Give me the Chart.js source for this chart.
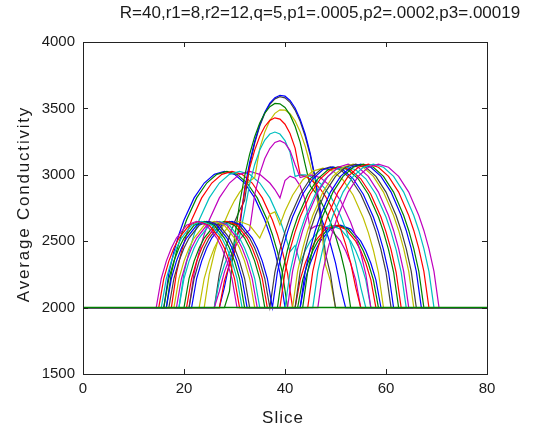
<!DOCTYPE html>
<html>
<head>
<meta charset="utf-8">
<script src="https://cdn.jsdelivr.net/npm/chart.js@4.4.0/dist/chart.umd.min.js"></script>
<style>
  html, body { margin: 0; padding: 0; background: #fff; }
</style>
</head>
<body>
<canvas id="chart" width="535" height="430"></canvas>
<script>
// texts
const chartTitle = 'R=40,r1=8,r2=12,q=5,p1=.0005,p2=.0002,p3=.00019';
const xLabel = 'Slice';
const yLabel = 'Average Conductivity';

// axes
const xTicks = [0, 20, 40, 60, 80];
const yTicks = [1500, 2000, 2500, 3000, 3500, 4000];

// matlab default colour order
const lineColors = ['#0000ff', '#008000', '#ff0000', '#00bfbf', '#bf00bf', '#bfbf00', '#404040'];

// slice positions of every curve
const slices = [
  [0,16,17,18,19,20,22,24,26,28,30,32,34,36,37,38,39,40,43,44,45,46,47,49,51,53,55,56,57,58,59,80],
  [0,16.5,17.5,18.5,19.5,20.5,22.5,24.5,26.5,28.5,30.5,32.5,34.5,36.5,37.5,38.5,39.5,40.5,42.5,43.5,44.5,45.5,46.5,48.5,50.5,52.5,54.5,55.5,56.5,57.5,58.5,80],
  [0,17.5,18.5,19.5,20.5,21.5,23.5,25.5,27.5,29.5,31.5,33.5,35.5,37.5,38.5,39.5,40.5,41.5,42,43,44,45,46,48,50,52,54,55,56,57,58,80],
  [0,19,20,21,22,23,25,27,29,31,33,35,37,39,40,41,42,43,44,45,47,49,51,53,54,55,56,57,80],
  [0,21,22,23,24,25,27,29,31,33,35,37,38,39,40,41,42,43,44,45,46,47,49,51,52,53,54,55,80],
  [0,24,25,26,27,28,29,30,31,32,33,34,35,36,37,38,39,40,41,42,43,44,45,46,47,48,49,50,80],
  [0,26,27,28,29,30,31,32,33,34,35,36,37,38,39,40,41,42,43,44,45,46,47,48,49,50,80],
  [0,27,28,29,30,31,32,33,34,35,36,37,38,39,40,41,42,43,44,45,46,47,48,49,50,51,52,80],
  [0,28,29,30,31,32,33,34,35,36,37,38,39,40,41,42,43,44,45,46,47,48,49,50,51,52,53,80],
  [0,27,28,29,30,31,32,33,34,35,36,37,38,39,40,41,42,43,44,45,46,47,48,49,50,51,52,53,54,55,80],
  [0,26,27,28,29,30,31,32,33,34,35,36,37,38,39,40,41,42,43,44,45,46,47,48,49,50,51,52,53,54,55,56,80],
  [0,26,27,28,29,30,31,32,33,34,35,36,37,38,39,40,41,42,43,45,47,49,51,53,54,55,56,57,80],
  [0,23,24,25,26,27,29,31,33,35,36,37,38,39,40,41.5,43.5,45.5,47.5,49.5,51.5,53.5,55.5,56.5,57.5,58.5,59.5,80],
  [0,21,22,23,24,25,27,29,31,33,34,35,36,37,37,38,39,40,41,43,45,47,49,51,53,55,57,58,59,60,61,80],
  [0,21.5,22.5,23.5,24.5,25.5,27.5,29.5,31.5,33.5,34.5,35.5,36.5,37.5,37.5,38.5,39.5,40.5,41.5,43.5,45.5,47.5,49.5,51.5,53.5,55.5,57.5,58.5,59.5,60.5,61.5,80],
  [0,20,21,22,23,24,26,28,30,32,33,34,35,36,38.5,39.5,40.5,41.5,42.5,44.5,46.5,48.5,50.5,52.5,54.5,56.5,58.5,59.5,60.5,61.5,62.5,80],
  [0,20.5,21.5,22.5,23.5,24.5,26.5,28.5,30.5,32.5,33.5,34.5,35.5,36.5,39,40,41,42,43,45,47,49,51,53,55,57,59,60,61,62,63,80],
  [0,19,20,21,22,23,25,27,29,31,32,33,34,35,40,41,42,43,44,46,48,50,52,54,56,58,60,61,62,63,64,80],
  [0,18.5,19.5,20.5,21.5,22.5,24.5,26.5,28.5,30.5,31.5,32.5,33.5,34.5,40.5,41.5,42.5,43.5,44.5,46.5,48.5,50.5,52.5,54.5,56.5,58.5,60.5,61.5,62.5,63.5,64.5,80],
  [0,18,19,20,21,22,24,26,28,30,31,32,33,34,41.5,42.5,43.5,44.5,45.5,47.5,49.5,51.5,53.5,55.5,57.5,59.5,61.5,62.5,63.5,64.5,65.5,80],
  [0,17,18,19,20,21,23,25,27,29,30,31,32,33,42,43,44,45,46,48,50,52,54,56,58,60,62,63,64,65,66,80],
  [0,16.5,17.5,18.5,19.5,20.5,22.5,24.5,26.5,28.5,29.5,30.5,31.5,32.5,43,44,45,46,47,49,51,53,55,57,59,61,63,64,65,66,67,80],
  [0,16,17,18,19,20,22,24,26,28,29,30,31,32,43.5,44.5,45.5,46.5,47.5,49.5,51.5,53.5,55.5,57.5,59.5,61.5,63.5,64.5,65.5,66.5,67.5,80],
  [0,15,16,17,18,19,21,23,25,27,28,29,30,31,44.5,45.5,46.5,47.5,48.5,50.5,52.5,54.5,56.5,58.5,60.5,62.5,64.5,65.5,66.5,67.5,68.5,80],
  [0,15.5,16.5,17.5,18.5,19.5,21.5,23.5,25.5,27.5,28.5,29.5,30.5,31.5,45.5,46.5,47.5,48.5,49.5,51.5,53.5,55.5,57.5,59.5,61.5,63.5,65.5,66.5,67.5,68.5,69.5,80],
  [0,14.5,15.5,16.5,17.5,18.5,20.5,22.5,24.5,26.5,27.5,28.5,29.5,30.5,46.5,47.5,48.5,49.5,50.5,52.5,54.5,56.5,58.5,60.5,62.5,64.5,66.5,67.5,68.5,69.5,70.5,80]
];

// average conductivity of every curve at those slices
const conductivity = [
  [2000,2000,2259,2421,2551,2659,2826,2938,3003,3025,3003,2938,2826,2659,2551,2421,2259,2000,2000,2209,2334,2428,2500,2591,2620,2591,2500,2428,2334,2209,2000,2000],
  [2000,2000,2259,2421,2551,2659,2826,2938,3003,3025,3003,2938,2826,2659,2551,2421,2259,2000,2000,2209,2334,2428,2500,2591,2620,2591,2500,2428,2334,2209,2000,2000],
  [2000,2000,2259,2421,2551,2659,2826,2938,3003,3025,3003,2938,2826,2659,2551,2421,2259,2000,2000,2209,2334,2428,2500,2591,2620,2591,2500,2428,2334,2209,2000,2000],
  [2000,2000,2259,2421,2551,2659,2826,2938,3003,3025,3003,2938,2826,2659,2551,2421,2468,2334,2428,2500,2591,2620,2591,2500,2428,2334,2209,2000,2000],
  [2000,2000,2259,2421,2551,2659,2826,2938,3003,3025,3003,2938,2889,2826,2957,2990,2975,2917,2809,2590,2613,2620,2591,2500,2428,2334,2209,2000,2000],
  [2000,2000,2253,2411,2538,2643,2732,2806,2867,2915,2953,2979,3197,3323,3409,3463,3489,3487,3460,3406,3325,3215,3074,2895,2667,2323,2202,2000,2000],
  [2000,2000,2253,2411,2538,2643,2732,2806,3069,3238,3367,3463,3531,3572,3588,3579,3546,3487,3403,3290,3146,2966,2740,2411,2253,2000,2000],
  [2000,2000,2153,2337,2478,2593,2892,3094,3252,3377,3471,3539,3581,3599,3592,3560,3503,3419,3307,3161,2973,2690,2593,2478,2337,2153,2000,2000],
  [2000,2000,2123,2520,2782,2989,3155,3287,3390,3465,3513,3537,3534,3507,3451,3366,3246,3076,2915,2867,2806,2732,2643,2538,2411,2253,2000,2000],
  [2000,2000,2202,2323,2414,2637,2873,3050,3186,3290,3364,3410,3429,3419,3381,3311,3201,2999,2988,2967,2935,2893,2838,2771,2690,2593,2478,2337,2153,2000,2000],
  [2000,2000,2202,2323,2414,2484,2536,2725,2930,3078,3186,3262,3307,3322,3307,3258,3169,2988,2999,2999,2988,2967,2935,2893,2838,2771,2690,2593,2478,2337,2153,2000,2000],
  [2000,2000,2123,2267,2371,2451,2512,2555,2584,2851,3009,3122,3198,3244,3257,3238,3182,3076,2979,3000,2979,2915,2806,2643,2538,2411,2253,2000,2000],
  [2000,2000,2219,2350,2448,2524,2620,2650,2620,2524,2609,2704,2721,2623,2725,2846,2961,3028,3050,3028,2961,2846,2675,2565,2432,2266,2000,2000],
  [2000,2000,2219,2350,2448,2524,2620,2650,2620,2524,2448,2350,2219,2000,2000,2268,2436,2570,2682,2854,2970,3038,3060,3038,2970,2854,2682,2570,2436,2268,2000,2000],
  [2000,2000,2219,2350,2448,2524,2620,2650,2620,2524,2448,2350,2219,2000,2000,2268,2436,2570,2682,2854,2970,3038,3060,3038,2970,2854,2682,2570,2436,2268,2000,2000],
  [2000,2000,2219,2350,2448,2524,2620,2650,2620,2524,2448,2350,2219,2000,2000,2268,2436,2570,2682,2854,2970,3038,3060,3038,2970,2854,2682,2570,2436,2268,2000,2000],
  [2000,2000,2219,2350,2448,2524,2620,2650,2620,2524,2448,2350,2219,2000,2000,2268,2436,2570,2682,2854,2970,3038,3060,3038,2970,2854,2682,2570,2436,2268,2000,2000],
  [2000,2000,2219,2350,2448,2524,2620,2650,2620,2524,2448,2350,2219,2000,2000,2268,2436,2570,2682,2854,2970,3038,3060,3038,2970,2854,2682,2570,2436,2268,2000,2000],
  [2000,2000,2219,2350,2448,2524,2620,2650,2620,2524,2448,2350,2219,2000,2000,2273,2444,2581,2694,2870,2988,3057,3080,3057,2988,2870,2694,2581,2444,2273,2000,2000],
  [2000,2000,2219,2350,2448,2524,2620,2650,2620,2524,2448,2350,2219,2000,2000,2273,2444,2581,2694,2870,2988,3057,3080,3057,2988,2870,2694,2581,2444,2273,2000,2000],
  [2000,2000,2219,2350,2448,2524,2620,2650,2620,2524,2448,2350,2219,2000,2000,2273,2444,2581,2694,2870,2988,3057,3080,3057,2988,2870,2694,2581,2444,2273,2000,2000],
  [2000,2000,2219,2350,2448,2524,2620,2650,2620,2524,2448,2350,2219,2000,2000,2273,2444,2581,2694,2870,2988,3057,3080,3057,2988,2870,2694,2581,2444,2273,2000,2000],
  [2000,2000,2219,2350,2448,2524,2620,2650,2620,2524,2448,2350,2219,2000,2000,2273,2444,2581,2694,2870,2988,3057,3080,3057,2988,2870,2694,2581,2444,2273,2000,2000],
  [2000,2000,2219,2350,2448,2524,2620,2650,2620,2524,2448,2350,2219,2000,2000,2273,2444,2581,2694,2870,2988,3057,3080,3057,2988,2870,2694,2581,2444,2273,2000,2000],
  [2000,2000,2219,2350,2448,2524,2620,2650,2620,2524,2448,2350,2219,2000,2000,2273,2444,2581,2694,2870,2988,3057,3080,3057,2988,2870,2694,2581,2444,2273,2000,2000],
  [2000,2000,2219,2350,2448,2524,2620,2650,2620,2524,2448,2350,2219,2000,2000,2273,2444,2581,2694,2870,2988,3057,3080,3057,2988,2870,2694,2581,2444,2273,2000,2000]
];

// the green baseline that lies over everything at 2000
const baselineSlices = [0, 80];
const baselineValues = [2000, 2000];

const fontFamily = '"Liberation Sans", Arial, sans-serif';
const inkColor = '#1a1a1a';

Chart.defaults.font.family = fontFamily;

// box, inward ticks and the three labels, drawn like matlab does
const matlabFrame = {
  id: 'matlabFrame',
  afterDraw(chart) {
    const { ctx, chartArea: a, scales: { x, y } } = chart;
    ctx.save();
    ctx.strokeStyle = '#222';
    ctx.lineWidth = 1;
    ctx.strokeRect(a.left + 0.5, a.top + 0.5, a.right - a.left, a.bottom - a.top);
    ctx.beginPath();
    xTicks.forEach(v => {
      const px = Math.round(x.getPixelForValue(v)) + 0.5;
      ctx.moveTo(px, a.bottom); ctx.lineTo(px, a.bottom - 5);
      ctx.moveTo(px, a.top); ctx.lineTo(px, a.top + 5);
    });
    yTicks.forEach(v => {
      const py = Math.round(y.getPixelForValue(v)) + 0.5;
      ctx.moveTo(a.left, py); ctx.lineTo(a.left + 5, py);
      ctx.moveTo(a.right, py); ctx.lineTo(a.right - 5, py);
    });
    ctx.stroke();

    ctx.fillStyle = inkColor;
    ctx.textAlign = 'center';
    ctx.font = '17px ' + fontFamily;
    ctx.textBaseline = 'alphabetic';
    ctx.fillText(chartTitle, 320, 18);

    ctx.textBaseline = 'middle';
    ctx.letterSpacing = '1px';
    ctx.fillText(xLabel, 283, 418);

    ctx.translate(24, 204);
    ctx.rotate(-Math.PI / 2);
    ctx.letterSpacing = '1.8px';
    ctx.fillText(yLabel, 0, 0);
    ctx.restore();
  }
};

const datasets = conductivity.map((vals, k) => ({
  data: vals.map((v, i) => ({ x: slices[k][i], y: v })),
  borderColor: lineColors[k % lineColors.length],
  borderWidth: 1.2,
  pointRadius: 0,
  fill: false,
  tension: 0,
  order: conductivity.length - k
}));
datasets.push({
  data: baselineValues.map((v, i) => ({ x: baselineSlices[i], y: v })),
  borderColor: '#008000',
  borderWidth: 1.5,
  pointRadius: 0,
  fill: false,
  order: 0
});

new Chart(document.getElementById('chart'), {
  type: 'line',
  data: { datasets: datasets },
  options: {
    responsive: false,
    animation: false,
    devicePixelRatio: 1,
    layout: { padding: { top: 42, right: 48, left: 0, bottom: 0 } },
    plugins: {
      legend: { display: false },
      tooltip: { enabled: false }
    },
    scales: {
      x: {
        type: 'linear',
        min: 0,
        max: 80,
        afterBuildTicks: s => { s.ticks = xTicks.map(v => ({ value: v })); },
        afterFit: s => { s.height = 56; },
        grid: { display: false, drawTicks: false },
        border: { display: false },
        ticks: { padding: 6, maxRotation: 0, color: inkColor, font: { size: 15 }, callback: v => String(v) }
      },
      y: {
        type: 'linear',
        min: 1500,
        max: 4000,
        afterBuildTicks: s => { s.ticks = yTicks.map(v => ({ value: v })); },
        afterFit: s => { s.width = 83; },
        grid: { display: false, drawTicks: false },
        border: { display: false },
        ticks: { padding: 8, color: inkColor, font: { size: 15 }, callback: v => String(v) }
      }
    }
  },
  plugins: [matlabFrame]
});
</script>
</body>
</html>
